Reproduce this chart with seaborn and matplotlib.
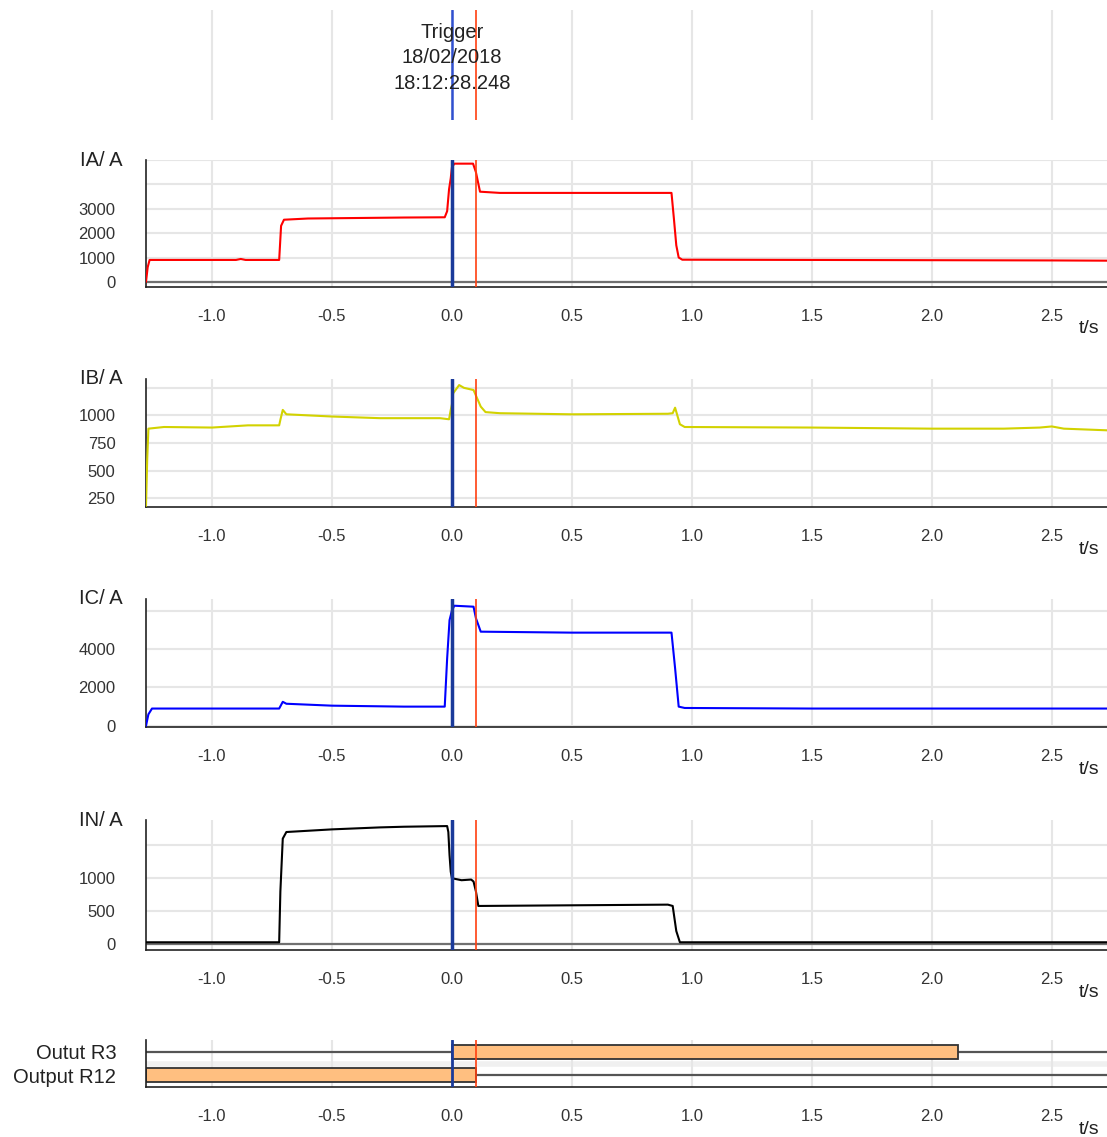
import numpy as np
import pandas as pd
import matplotlib
matplotlib.use("Agg")
import matplotlib.pyplot as plt
import seaborn as sns

sns.set_theme(style="white")
plt.rcParams['font.family'] = ['Liberation Sans', 'DejaVu Sans']
plt.rcParams['axes.unicode_minus'] = False

# trace points (t in s, current in A)
ia_t = [-1.275, -1.268, -1.26, -0.9, -0.88, -0.86, -0.72, -0.712, -0.70, -0.6, -0.4, -0.2,
        -0.03, -0.02, -0.012, -0.005, 0.0, 0.01, 0.088, 0.1, 0.117, 0.2, 0.5, 0.915, 0.925,
        0.935, 0.945, 0.96, 1.5, 2.0, 2.5, 2.73]
ia_v = [0, 600, 900, 900, 940, 900, 900, 2300, 2550, 2600, 2620, 2640,
        2650, 2900, 3800, 4250, 4700, 4850, 4850, 4500, 3700, 3650, 3650, 3650, 2600,
        1500, 1000, 910, 900, 890, 880, 870]

ib_t = [-1.275, -1.27, -1.265, -1.2, -1.0, -0.85, -0.72, -0.715, -0.705, -0.69, -0.5, -0.3,
        -0.05, -0.012, -0.005, 0.0, 0.005, 0.03, 0.05, 0.09, 0.12, 0.14, 0.2, 0.5, 0.9,
        0.92, 0.93, 0.95, 0.97, 1.5, 2.0, 2.3, 2.45, 2.5, 2.55, 2.73]
ib_v = [180, 600, 880, 895, 890, 910, 910, 960, 1050, 1010, 990, 975,
        975, 965, 1050, 1100, 1200, 1275, 1250, 1230, 1080, 1030, 1020, 1010, 1015,
        1020, 1070, 920, 895, 890, 880, 880, 890, 900, 880, 865]

ic_t = [-1.275, -1.265, -1.25, -0.72, -0.705, -0.69, -0.5, -0.2, -0.03, -0.02, -0.01, 0.0,
        0.01, 0.09, 0.1, 0.12, 0.5, 0.915, 0.93, 0.945, 0.97, 1.5, 2.73]
ic_v = [0, 600, 900, 900, 1250, 1150, 1050, 1000, 1000, 3500, 5500, 6000,
        6250, 6200, 5600, 4900, 4850, 4850, 3000, 1000, 930, 900, 900]

in_t = [-1.275, -0.72, -0.715, -0.705, -0.69, -0.5, -0.3, -0.2, -0.02, -0.015, -0.01,
        -0.005, 0.0, 0.04, 0.08, 0.09, 0.1, 0.11, 0.5, 0.9, 0.92, 0.935, 0.95, 2.73]
in_v = [30, 30, 800, 1600, 1700, 1740, 1770, 1780, 1790, 1700, 1350,
        1100, 1000, 970, 980, 950, 800, 580, 590, 600, 580, 200, 30, 30]

channels = ["IA/ A", "IB/ A", "IC/ A", "IN/ A"]
colors = ["#ff0000", "#d2d200", "#0000ff", "#000000"]
yticks = [[0, 1000, 2000, 3000, 4000, 5000], [250, 500, 750, 1000, 1250],
          [0, 2000, 4000, 6000], [0, 500, 1000, 1500]]
yticklabels = [["0", "1000", "2000", "3000", "", ""], ["250", "500", "750", "1000", ""],
               ["0", "2000", "4000", ""], ["0", "500", "1000", ""]]
ylims = [(-210, 5000), (170, 1330), (-60, 6600), (-87, 1882)]
traces = [(ia_t, ia_v), (ib_t, ib_v), (ic_t, ic_v), (in_t, in_v)]

outputs = ["Outut R3", "Output R12"]
out_on_start = [0.0, -1.275]
out_on_end = [2.11, 0.1]

trigger_t = 0.0
trip_t = 0.1
xticks = [-1.0, -0.5, 0.0, 0.5, 1.0, 1.5, 2.0, 2.5]
xlim = (-1.275, 2.73)

W, H = 1107, 1137
fig = plt.figure(figsize=(W / 100, H / 100), dpi=100)

def box(top, bottom):
    return [146 / W, (H - bottom) / H, (W - 146) / W, (bottom - top) / H]

grid_c = "#e6e6e6"
tick_c = "#333333"

# trigger header
ax0 = fig.add_axes(box(10, 120))
ax0.set_xlim(xlim)
ax0.set_ylim(0, 1)
for x in xticks:
    ax0.axvline(x, color=grid_c, lw=1.5)
ax0.axvline(trigger_t, color="#3050d0", lw=1.8)
ax0.axvline(trip_t, color="#ff4010", lw=1.2)
ax0.text(trigger_t, 0.565, "Trigger\n18/02/2018\n18:12:28.248", ha="center", va="center",
         fontsize=14.5, color="#222222", linespacing=1.42)
ax0.axis("off")

panel_px = [(160, 287), (379, 507), (599, 727), (820, 950)]
for i, (name, col) in enumerate(zip(channels, colors)):
    ax = fig.add_axes(box(*panel_px[i]))
    df = pd.DataFrame({"t": traces[i][0], "v": traces[i][1]})
    ax.set_xlim(xlim)
    ax.set_ylim(ylims[i])
    ax.set_xticks(xticks)
    ax.set_yticks(yticks[i])
    ax.set_yticklabels(yticklabels[i])
    ax.grid(True, color=grid_c, lw=1.5)
    ax.set_axisbelow(True)
    if i in (0, 3):
        ax.axhline(0, color="#707070", lw=1.6, zorder=1)
    sns.lineplot(data=df, x="t", y="v", ax=ax, color=col, lw=1.5, zorder=3)
    ax.axvline(trigger_t, color="#1a3a9a", lw=2.5, zorder=4)
    ax.axvline(trip_t, color="#ff4010", lw=1.2, zorder=4)
    ax.set_xlabel("")
    ax.set_ylabel("")
    for s in ["top", "right"]:
        ax.spines[s].set_visible(False)
    for s in ["left", "bottom"]:
        ax.spines[s].set_color("#222222")
        ax.spines[s].set_linewidth(1.2)
    ax.tick_params(axis="x", direction="out", length=9, width=1.3, color="#222222",
                   labelsize=12, labelcolor=tick_c, pad=7)
    ax.tick_params(axis="y", direction="out", length=8, width=1.3, color="#222222",
                   labelsize=12, labelcolor=tick_c, pad=14)
    ax.text(-0.024, 1.0, name, transform=ax.transAxes, ha="right", va="center",
            fontsize=14.5, color="#222222")
    ax.text(0.981, -0.33, "t/s", transform=ax.transAxes, ha="center", va="center",
            fontsize=14, color="#222222")

# binary outputs
axo = fig.add_axes(box(1040, 1087))
axo.set_xlim(xlim)
axo.set_ylim(-0.52, 1.52)
axo.set_xticks(xticks)
axo.set_yticks([1, 0])
axo.set_yticklabels(outputs)
axo.grid(True, axis="x", color=grid_c, lw=1.5)
axo.axhline(0.5, color="#f0f0f0", lw=4, zorder=0)
axo.set_axisbelow(True)
rows = [1, 0]
for r, s, e in zip(rows, out_on_start, out_on_end):
    axo.hlines(r, xlim[0], xlim[1], color="#555555", lw=1.6, zorder=1)
    axo.barh(r, e - s, left=s, height=0.6, color="#ffbf80", edgecolor="#333333",
             lw=1.3, zorder=2)
axo.axvline(trigger_t, color="#1a3a9a", lw=2.0, zorder=4)
axo.axvline(trip_t, color="#ff4010", lw=1.2, zorder=4)
for s in ["top", "right"]:
    axo.spines[s].set_visible(False)
for s in ["left", "bottom"]:
    axo.spines[s].set_color("#222222")
    axo.spines[s].set_linewidth(1.2)
axo.tick_params(axis="x", direction="out", length=9, width=1.3, color="#222222",
                labelsize=12, labelcolor=tick_c, pad=7)
axo.tick_params(axis="y", length=0, labelsize=14.5, labelcolor="#222222", pad=30)
axo.yaxis.set_tick_params(pad=30)
for lab in axo.get_yticklabels():
    lab.set_x(-0.0)
axo.tick_params(axis="y", pad=30 - 12 * 72 / 100)
axo.text(0.981, -0.9, "t/s", transform=axo.transAxes, ha="center", va="center",
         fontsize=14, color="#222222")

fig.savefig("out.png", dpi=100)
